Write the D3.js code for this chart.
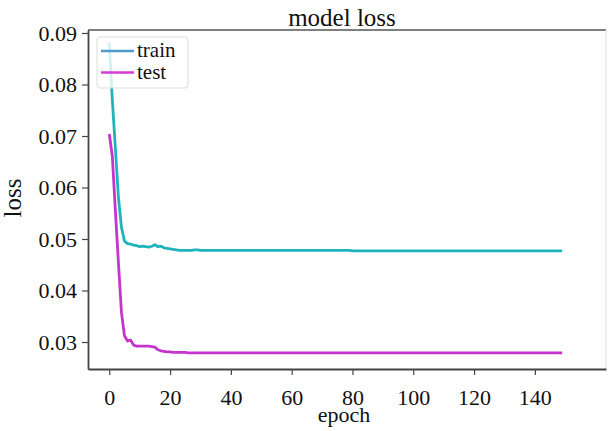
<!DOCTYPE html>
<html lang="en">
<head>
<meta charset="UTF-8">
<title>model loss</title>
<script src="https://cdn.jsdelivr.net/npm/d3@7"></script>
<style>
  body { margin: 0; background: #fff; }
  text { font-family: "Liberation Serif", "Times New Roman", serif; fill: #111; }
</style>
</head>
<body>
<script>
// loss per epoch
const trainLoss = [
  0.0881, 0.0770, 0.0677, 0.0582, 0.0523, 0.0496, 0.0491, 0.0490, 0.0488, 0.0487,
  0.0485, 0.0486, 0.0485, 0.0484, 0.0486, 0.0489, 0.0485, 0.0486, 0.0483, 0.0482,
  0.0481, 0.0480, 0.0479, 0.0478, 0.0478, 0.0478, 0.0478, 0.0478, 0.0479, 0.0479,
  0.0478, 0.0478, 0.0478, 0.0478, 0.0478, 0.0478, 0.0478, 0.0478, 0.0478, 0.0478,
  0.0478, 0.0478, 0.0478, 0.0478, 0.0478, 0.0478, 0.0478, 0.0478, 0.0478, 0.0478,
  0.0478, 0.0478, 0.0478, 0.0478, 0.0478, 0.0478, 0.0478, 0.0478, 0.0478, 0.0478,
  0.0478, 0.0478, 0.0478, 0.0478, 0.0478, 0.0478, 0.0478, 0.0478, 0.0478, 0.0478,
  0.0478, 0.0478, 0.0478, 0.0478, 0.0478, 0.0478, 0.0478, 0.0478, 0.0478, 0.0478,
  0.0477, 0.0477, 0.0477, 0.0477, 0.0477, 0.0477, 0.0477, 0.0477, 0.0477, 0.0477,
  0.0477, 0.0477, 0.0477, 0.0477, 0.0477, 0.0477, 0.0477, 0.0477, 0.0477, 0.0477,
  0.0477, 0.0477, 0.0477, 0.0477, 0.0477, 0.0477, 0.0477, 0.0477, 0.0477, 0.0477,
  0.0477, 0.0477, 0.0477, 0.0477, 0.0477, 0.0477, 0.0477, 0.0477, 0.0477, 0.0477,
  0.0477, 0.0477, 0.0477, 0.0477, 0.0477, 0.0477, 0.0477, 0.0477, 0.0477, 0.0477,
  0.0477, 0.0477, 0.0477, 0.0477, 0.0477, 0.0477, 0.0477, 0.0477, 0.0477, 0.0477,
  0.0477, 0.0477, 0.0477, 0.0477, 0.0477, 0.0477, 0.0477, 0.0477, 0.0477, 0.0477
];
const testLoss = [
  0.0704, 0.0661, 0.0556, 0.0455, 0.0358, 0.0312, 0.0302, 0.0304, 0.0294, 0.0292,
  0.0292, 0.0292, 0.0292, 0.0292, 0.0291, 0.0290, 0.0285, 0.0283, 0.0282, 0.0281,
  0.0281, 0.0280, 0.0280, 0.0280, 0.0280, 0.0280, 0.0279, 0.0279, 0.0279, 0.0279,
  0.0279, 0.0279, 0.0279, 0.0279, 0.0279, 0.0279, 0.0279, 0.0279, 0.0279, 0.0279,
  0.0279, 0.0279, 0.0279, 0.0279, 0.0279, 0.0279, 0.0279, 0.0279, 0.0279, 0.0279,
  0.0279, 0.0279, 0.0279, 0.0279, 0.0279, 0.0279, 0.0279, 0.0279, 0.0279, 0.0279,
  0.0279, 0.0279, 0.0279, 0.0279, 0.0279, 0.0279, 0.0279, 0.0279, 0.0279, 0.0279,
  0.0279, 0.0279, 0.0279, 0.0279, 0.0279, 0.0279, 0.0279, 0.0279, 0.0279, 0.0279,
  0.0279, 0.0279, 0.0279, 0.0279, 0.0279, 0.0279, 0.0279, 0.0279, 0.0279, 0.0279,
  0.0279, 0.0279, 0.0279, 0.0279, 0.0279, 0.0279, 0.0279, 0.0279, 0.0279, 0.0279,
  0.0279, 0.0279, 0.0279, 0.0279, 0.0279, 0.0279, 0.0279, 0.0279, 0.0279, 0.0279,
  0.0279, 0.0279, 0.0279, 0.0279, 0.0279, 0.0279, 0.0279, 0.0279, 0.0279, 0.0279,
  0.0279, 0.0279, 0.0279, 0.0279, 0.0279, 0.0279, 0.0279, 0.0279, 0.0279, 0.0279,
  0.0279, 0.0279, 0.0279, 0.0279, 0.0279, 0.0279, 0.0279, 0.0279, 0.0279, 0.0279,
  0.0279, 0.0279, 0.0279, 0.0279, 0.0279, 0.0279, 0.0279, 0.0279, 0.0279, 0.0279
];
const xTicks = [0, 20, 40, 60, 80, 100, 120, 140];
const yTicks = [0.03, 0.04, 0.05, 0.06, 0.07, 0.08, 0.09];
const seriesNames = ["train", "test"];

const width = 608, height = 431;
const plotLeft = 88, plotRight = 606, plotTop = 30, plotBottom = 369;

const svg = d3.select("body").append("svg")
  .attr("width", width)
  .attr("height", height);

const x = d3.scaleLinear().domain([-7, 163.4]).range([plotLeft, plotRight]);
const y = d3.scaleLinear().domain([0.02476, 0.09058]).range([plotBottom, plotTop]);

const line = d3.line()
  .x((d, i) => x(i))
  .y(d => y(d));

// data lines
svg.append("path")
  .attr("fill", "none")
  .attr("stroke", "#1fb4bc")
  .attr("stroke-width", 2.8)
  .attr("stroke-linejoin", "round")
  .attr("d", line(trainLoss));

svg.append("path")
  .attr("fill", "none")
  .attr("stroke", "#c535cb")
  .attr("stroke-width", 2.8)
  .attr("stroke-linejoin", "round")
  .attr("d", line(testLoss));

// frame
svg.append("line").attr("x1", plotLeft).attr("x2", plotRight).attr("y1", plotTop).attr("y2", plotTop)
  .attr("stroke", "#555").attr("stroke-width", 1.6);
svg.append("line").attr("x1", plotRight).attr("x2", plotRight).attr("y1", plotTop).attr("y2", plotBottom)
  .attr("stroke", "#ddd").attr("stroke-width", 1);

// axes
const xAxis = svg.append("g")
  .attr("transform", `translate(0,${plotBottom})`)
  .call(d3.axisBottom(x).tickValues(xTicks).tickSize(6).tickPadding(14).tickSizeOuter(0));
const yAxis = svg.append("g")
  .attr("transform", `translate(${plotLeft},0)`)
  .call(d3.axisLeft(y).tickValues(yTicks).tickFormat(d3.format(".2f")).tickSize(6).tickPadding(5).tickSizeOuter(0));

[xAxis, yAxis].forEach(a => {
  a.select(".domain").attr("stroke", "#444").attr("stroke-width", 1.8);
  a.selectAll(".tick line").attr("stroke", "#444").attr("stroke-width", 1.2);
  a.selectAll("text").attr("font-size", 22).attr("font-family", "Liberation Serif").attr("fill", "#111");
});

// titles
svg.append("text")
  .attr("x", 342).attr("y", 26)
  .attr("text-anchor", "middle")
  .attr("font-size", 25)
  .text("model loss");

svg.append("text")
  .attr("x", 344).attr("y", 422)
  .attr("text-anchor", "middle")
  .attr("font-size", 22)
  .text("epoch");

svg.append("text")
  .attr("transform", "translate(21,198) rotate(-90)")
  .attr("text-anchor", "middle")
  .attr("font-size", 25)
  .text("loss");

// legend
const legend = svg.append("g").attr("transform", "translate(97,37)");
legend.append("rect")
  .attr("width", 91).attr("height", 51)
  .attr("rx", 3)
  .attr("fill", "#fff").attr("fill-opacity", 0.8)
  .attr("stroke", "#ddd");

const legendColors = ["#4f9ccc", "#d23cd4"];
seriesNames.forEach((name, i) => {
  const g = legend.append("g").attr("transform", `translate(0,${14 + i * 21.5})`);
  g.append("line").attr("x1", 4).attr("x2", 37)
    .attr("stroke", legendColors[i]).attr("stroke-width", 2.6);
  g.append("text").attr("x", 40).attr("y", 6)
    .attr("font-size", 21)
    .text(name);
});
</script>
</body>
</html>
